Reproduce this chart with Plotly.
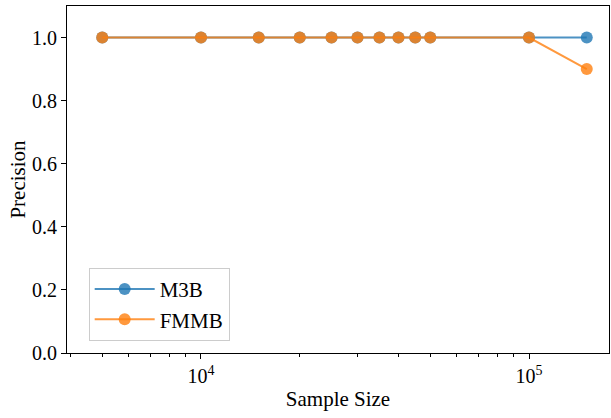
import plotly.graph_objects as go

sample_sizes = [5000, 10000, 15000, 20000, 25000, 30000, 35000, 40000, 45000, 50000, 100000, 150000]
m3b_precision = [1.0, 1.0, 1.0, 1.0, 1.0, 1.0, 1.0, 1.0, 1.0, 1.0, 1.0, 1.0]
fmmb_precision = [1.0, 1.0, 1.0, 1.0, 1.0, 1.0, 1.0, 1.0, 1.0, 1.0, 1.0, 0.9]
series_names = ["M3B", "FMMB"]
y_ticks = [0.0, 0.2, 0.4, 0.6, 0.8, 1.0]
x_major = [1e4, 1e5]
x_major_text = ["10<sup>4</sup>", "10<sup>5</sup>"]
x_minor = [m * 10 ** e for e in (3, 4, 5) for m in range(2, 10)]

FONT = "Liberation Serif, Times New Roman, serif"
blue = "rgba(31,119,180,0.8)"
orange = "rgba(255,127,14,0.8)"

fig = go.Figure()
for name, ys, col in [(series_names[0], m3b_precision, blue), (series_names[1], fmmb_precision, orange)]:
    fig.add_trace(go.Scatter(
        x=sample_sizes, y=ys, name=name, mode="lines+markers",
        line=dict(color=col, width=2),
        marker=dict(color=col, size=12, line=dict(width=0)),
    ))

axis_common = dict(
    showline=True, linecolor="black", linewidth=1.2, mirror=True,
    ticks="outside", tickcolor="black", ticklen=5, tickwidth=1,
    showgrid=False, zeroline=False, automargin=False,
    tickfont=dict(family=FONT, size=20, color="black"),
)

fig.update_layout(
    width=611, height=418,
    margin=dict(l=67, r=2, t=6, b=65),
    plot_bgcolor="white", paper_bgcolor="white",
    xaxis=dict(
        type="log", range=[3.5915, 5.2439],
        tickvals=x_major, ticktext=x_major_text,
        minor=dict(tickvals=x_minor, ticks="outside", ticklen=3, tickcolor="black", tickwidth=0.8),
        title=dict(text="Sample Size", font=dict(family=FONT, size=21, color="black"), standoff=5),
        **axis_common,
    ),
    yaxis=dict(
        range=[0, 1.1], tickvals=y_ticks, ticktext=[f"{v:.1f}" for v in y_ticks],
        title=dict(text="Precision", font=dict(family=FONT, size=21, color="black"), standoff=0),
        **axis_common,
    ),
    legend=dict(
        x=0.04, y=0.035, xanchor="left", yanchor="bottom",
        bgcolor="rgba(255,255,255,0.8)", bordercolor="#cccccc", borderwidth=1,
        font=dict(family=FONT, size=21, color="black"),
        itemwidth=60, entrywidth=80, entrywidthmode="pixels",
    ),
    showlegend=True,
)

fig.write_html("out.html", config={"displayModeBar": False},
               post_script="document.body.style.margin='0';document.body.style.padding='0';")
